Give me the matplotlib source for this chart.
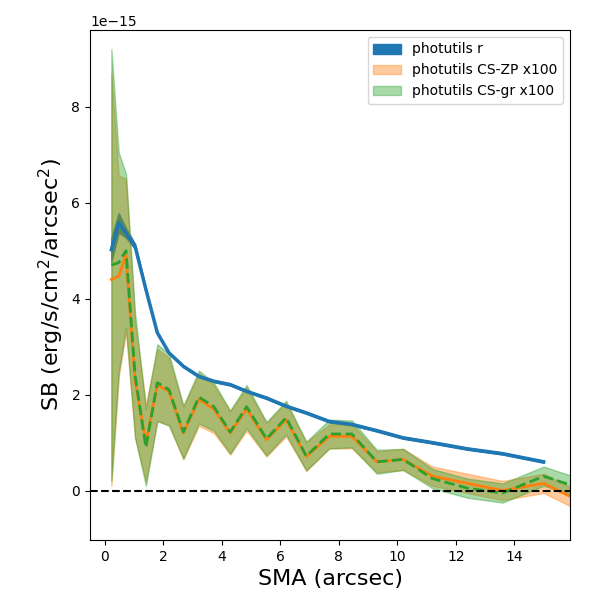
import numpy as np
import matplotlib
matplotlib.use('Agg')
import matplotlib.pyplot as plt

# semi-major axis (arcsec)
sma = np.array([0.23, 0.48, 0.73, 1.04, 1.41, 1.80, 2.20, 2.69, 3.22, 3.73, 4.29, 4.85,
                5.53, 6.20, 6.89, 7.68, 8.45, 9.30, 10.2, 11.2, 12.4, 13.6, 15.0, 16.5])

# surface brightness, units of 1e-15
sb_r = np.array([5.02, 5.58, 5.37, 5.09, 4.19, 3.29, 2.87, 2.59, 2.38, 2.28, 2.21, 2.07,
                 1.93, 1.76, 1.62, 1.44, 1.38, 1.25, 1.10, 1.00, 0.87, 0.77, 0.60, np.nan])
err_r = np.array([0.25, 0.2, 0.1, 0.05, 0.03, 0.02, 0.02, 0.02, 0.02, 0.02, 0.02, 0.02,
                  0.02, 0.02, 0.02, 0.02, 0.02, 0.02, 0.02, 0.02, 0.02, 0.02, 0.02, np.nan])

sb_zp = np.array([4.40, 4.47, 4.90, 2.30, 1.00, 2.20, 2.07, 1.20, 1.90, 1.70, 1.20, 1.70,
                  1.06, 1.48, 0.71, 1.13, 1.13, 0.60, 0.65, 0.30, 0.15, 0.00, 0.15, -0.30])
err_zp = np.array([4.3, 2.1, 1.6, 1.2, 0.8, 0.75, 0.7, 0.55, 0.55, 0.5, 0.45, 0.45,
                   0.35, 0.35, 0.3, 0.25, 0.25, 0.22, 0.22, 0.2, 0.2, 0.2, 0.2, 0.2])

sb_gr = np.array([4.70, 4.75, 5.00, 2.40, 0.90, 2.25, 2.10, 1.22, 1.95, 1.75, 1.22, 1.75,
                  1.08, 1.52, 0.72, 1.18, 1.18, 0.60, 0.65, 0.25, 0.05, -0.05, 0.30, 0.00])
err_gr = np.array([4.5, 2.3, 1.6, 1.3, 0.8, 0.8, 0.75, 0.55, 0.55, 0.5, 0.45, 0.45,
                   0.35, 0.35, 0.3, 0.3, 0.28, 0.25, 0.22, 0.2, 0.2, 0.2, 0.2, 0.2])

scale = 1e-15

fig, ax = plt.subplots(figsize=(6, 6), dpi=100)

ax.fill_between(sma, (sb_r - err_r) * scale, (sb_r + err_r) * scale,
                color='C0', alpha=1.0, label='photutils r')
ax.fill_between(sma, (sb_zp - err_zp) * scale, (sb_zp + err_zp) * scale,
                color='C1', alpha=0.4, label='photutils CS-ZP x100')
ax.fill_between(sma, (sb_gr - err_gr) * scale, (sb_gr + err_gr) * scale,
                color='C2', alpha=0.4, label='photutils CS-gr x100')
ax.plot(sma, sb_r * scale, color='C0', lw=2.5)
ax.plot(sma, sb_zp * scale, color='C1', lw=2)
ax.plot(sma, sb_gr * scale, color='C2', lw=2, ls='--')
ax.axhline(0, color='k', ls='--')

ax.set_xlim(-0.5, 15.9)
ax.set_ylim(-1.03e-15, 9.6e-15)
ax.set_xlabel('SMA (arcsec)', fontsize=16)
ax.set_ylabel(r'SB (erg/s/cm$^2$/arcsec$^2$)', fontsize=16)
ax.legend(loc='upper right')

plt.subplots_adjust(left=0.15, right=0.95, top=0.95, bottom=0.1)
plt.savefig('out.png')
